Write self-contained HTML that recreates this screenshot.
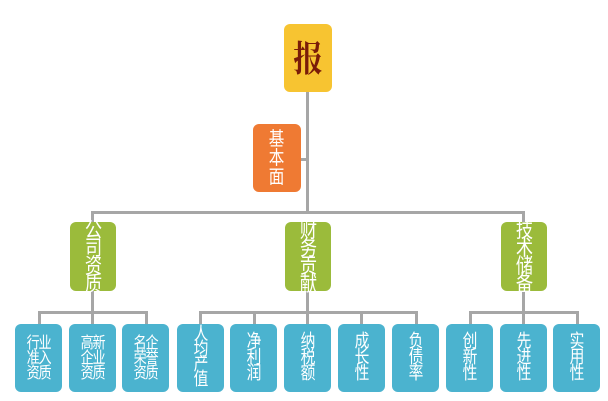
<!DOCTYPE html>
<html><head><meta charset="utf-8"><style>
body{margin:0;width:608px;height:401px;background:#fff;position:relative;overflow:hidden;font-family:"Liberation Sans","Noto Sans CJK SC",sans-serif}
.b{position:absolute;border-radius:6px;color:#fff;text-align:center;box-sizing:border-box}
.b span{display:inline-block;transform:scaleX(0.82)}
.l{position:absolute;background:#a6a6a6}
.g{background:#9bbb3b;font-size:21px;line-height:18px;padding-top:0;width:46px;top:222px;height:69px}
.c{background:#4bb3cf;top:324px;height:68px;width:47px}
.s{font-size:18px;line-height:16px;padding-top:9px}
.d{font-size:16px;line-height:15px;padding-top:12px;letter-spacing:-1.5px}
</style></head><body>
<div class="l" style="left:306px;top:90px;width:3px;height:124px"></div>
<div class="l" style="left:300px;top:158px;width:8px;height:3px"></div>
<div class="l" style="left:91px;top:211px;width:434px;height:3px"></div>
<div class="l" style="left:91px;top:211px;width:3px;height:16px"></div>
<div class="l" style="left:522px;top:211px;width:3px;height:16px"></div>
<div class="l" style="left:91px;top:290px;width:3px;height:24px"></div>
<div class="l" style="left:306px;top:290px;width:3px;height:24px"></div>
<div class="l" style="left:522px;top:290px;width:3px;height:24px"></div>
<div class="l" style="left:38px;top:311px;width:110px;height:3px"></div>
<div class="l" style="left:199px;top:311px;width:219px;height:3px"></div>
<div class="l" style="left:469px;top:311px;width:109px;height:3px"></div>
<div class="l" style="left:38px;top:311px;width:3px;height:15px"></div>
<div class="l" style="left:91px;top:311px;width:3px;height:15px"></div>
<div class="l" style="left:145px;top:311px;width:3px;height:15px"></div>
<div class="l" style="left:199px;top:311px;width:3px;height:15px"></div>
<div class="l" style="left:253px;top:311px;width:3px;height:15px"></div>
<div class="l" style="left:306px;top:311px;width:3px;height:15px"></div>
<div class="l" style="left:360px;top:311px;width:3px;height:15px"></div>
<div class="l" style="left:415px;top:311px;width:3px;height:15px"></div>
<div class="l" style="left:469px;top:311px;width:3px;height:15px"></div>
<div class="l" style="left:522px;top:311px;width:3px;height:15px"></div>
<div class="l" style="left:576px;top:311px;width:3px;height:15px"></div>
<div class="b" style="left:284px;top:24px;width:48px;height:68px;background:#f7c431;color:#7a1c08;font-size:36px;line-height:66px;font-family:'Noto Serif CJK SC',serif;font-weight:bold"><span>报</span></div>
<div class="b" style="left:253px;top:124px;width:48px;height:68px;background:#ef7a33;font-size:19px;line-height:19px;padding-top:6px"><span>基<br>本<br>面</span></div>
<div class="b g" style="left:70px"><span>公<br>司<br>资<br>质</span></div>
<div class="b g" style="left:285px"><span>财<br>务<br>贡<br>献</span></div>
<div class="b g" style="left:501px"><span>技<br>术<br>储<br>备</span></div>
<div class="b c d" style="left:15px"><span>行业<br>准入<br>资质</span></div>
<div class="b c d" style="left:69px"><span>高新<br>企业<br>资质</span></div>
<div class="b c d" style="left:122px"><span>名企<br>荣誉<br>资质</span></div>
<div class="b c s" style="left:177px;padding-top:3px;line-height:15px"><span>人<br>均<br>产<br>值</span></div>
<div class="b c s" style="left:230px"><span>净<br>利<br>润</span></div>
<div class="b c s" style="left:284px"><span>纳<br>税<br>额</span></div>
<div class="b c s" style="left:338px"><span>成<br>长<br>性</span></div>
<div class="b c s" style="left:392px"><span>负<br>债<br>率</span></div>
<div class="b c s" style="left:446px"><span>创<br>新<br>性</span></div>
<div class="b c s" style="left:500px"><span>先<br>进<br>性</span></div>
<div class="b c s" style="left:553px"><span>实<br>用<br>性</span></div>
</body></html>
